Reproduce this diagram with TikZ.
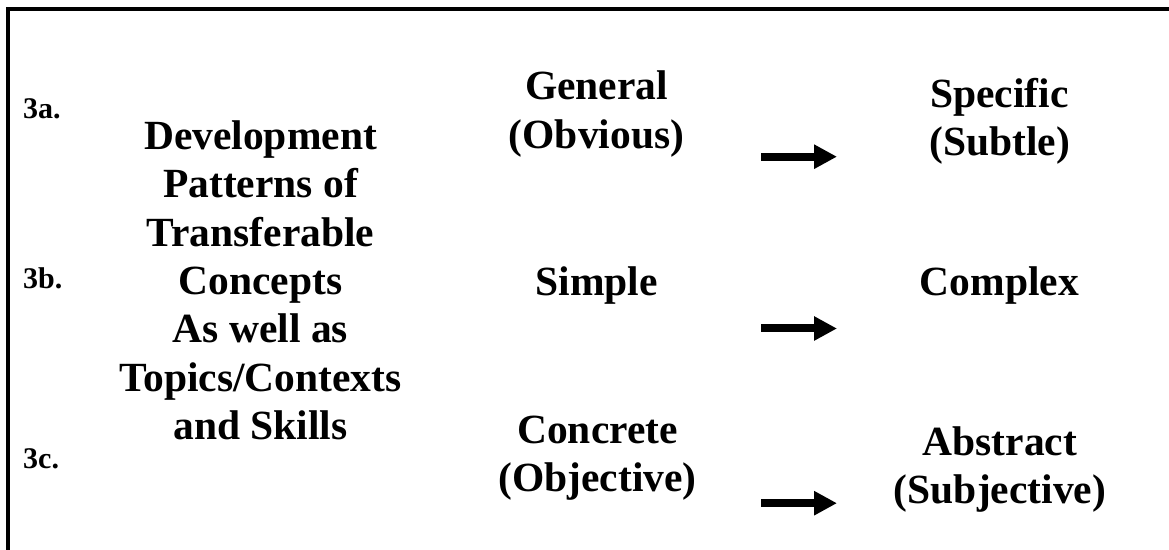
\documentclass[tikz,border=0pt]{standalone}
\usepackage{fontspec}
\setmainfont{Liberation Serif}
\usetikzlibrary{arrows.meta}

\begin{document}
\begin{tikzpicture}[x=1bp,y=-1bp,
  big/.style={inner sep=0pt,anchor=base,font=\fontsize{41.5bp}{48bp}\selectfont\bfseries},
  tag/.style={inner sep=0pt,anchor=base west,font=\fontsize{30bp}{32bp}\selectfont\bfseries},
  fatarrow/.style={line width=8bp,-{Triangle[length=23bp,width=23bp]}}]
  \useasboundingbox (0,0) rectangle (1169,550);

  % frame: top and left rules only
  \draw[line width=4bp] (7.7,552) -- (7.7,9) -- (1171,9);

  % row tags
  \node[tag] (t3a) at (23,119) {3a.};
  \node[tag] (t3b) at (23,289) {3b.};
  \node[tag] (t3c) at (23,468) {3c.};

  % left column
  \node[big] (l1) at (260.5,149.5) {Development};
  \node[big] (l2) at (260.5,197.8) {Patterns of};
  \node[big] (l3) at (260.5,246.1) {Transferable};
  \node[big] (l4) at (260.5,294.4) {Concepts};
  \node[big] (l5) at (260.5,342.7) {As well as};
  \node[big] (l6) at (260.5,391.0) {Topics/Contexts};
  \node[big] (l7) at (260.5,439.3) {and Skills};

  % middle column
  \node[big] (g1) at (596.5,100) {General};
  \node[big] (g2) at (596.5,148.3) {(Obvious)};
  \node[big] (s1) at (596.5,296) {Simple};
  \node[big] (c1) at (597.5,443.5) {Concrete};
  \node[big] (c2) at (597.5,491.8) {(Objective)};

  % right column
  \node[big] (p1) at (999.5,107.5) {Specific};
  \node[big] (p2) at (999.5,155.8) {(Subtle)};
  \node[big] (x1) at (999.5,296) {Complex};
  \node[big] (a1) at (1000,455) {Abstract};
  \node[big] (a2) at (1000,503.3) {(Subjective)};

  % arrows
  \coordinate (ra1) at (761,156.7);  \coordinate (rb1) at (837,156.7);
  \coordinate (ra2) at (761,328.5);  \coordinate (rb2) at (837,328.5);
  \coordinate (ra3) at (761,503.2);  \coordinate (rb3) at (837,503.2);
  \draw[fatarrow] (ra1) -- (rb1);
  \draw[fatarrow] (ra2) -- (rb2);
  \draw[fatarrow] (ra3) -- (rb3);
\end{tikzpicture}
\end{document}
